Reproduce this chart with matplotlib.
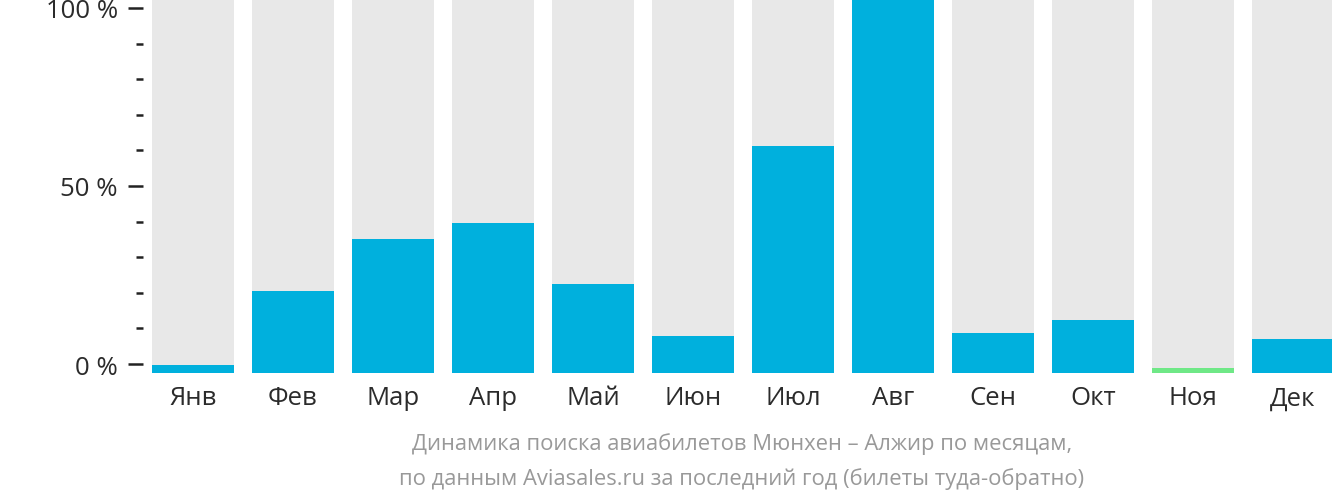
import matplotlib.pyplot as plt
from matplotlib.ticker import FixedLocator
import numpy as np

plt.rcParams['font.family'] = ['Open Sans', 'DejaVu Sans']

# Monthly search share, % of the busiest month
months = ['Янв', 'Фев', 'Мар', 'Апр', 'Май', 'Июн', 'Июл', 'Авг', 'Сен', 'Окт', 'Ноя', 'Дек']
values = [2.1, 21.9, 35.8, 40.1, 23.8, 9.9, 60.7, 100.0, 10.7, 14.2, 1.3, 9.1]
highlight = 'Ноя'
y_ticks = [0, 50, 100]
y_minor = [10, 20, 30, 40, 60, 70, 80, 90]
y_labels = ['0 %', '50 %', '100 %']
caption = ('Динамика поиска авиабилетов Мюнхен – Алжир по месяцам,\n'
           'по данным Aviasales.ru за последний год (билеты туда-обратно)')

blue = '#00b0dd'
green = '#6fe887'
grey = '#e8e8e8'
text_col = '#2b2b2b'

fig = plt.figure(figsize=(13.32, 5.02), dpi=100)
rect = [143 / 1332, 128 / 502, (1332 - 143) / 1332, 374 / 502]

# bars live on their own 0..100 axes filling the whole plot height
ax = fig.add_axes(rect)
x = np.arange(len(months))
ax.bar(x, 100, width=0.82, color=grey, zorder=1)
colors = [green if m == highlight else blue for m in months]
ax.bar(x, values, width=0.82, color=colors, zorder=2)
ax.set_xlim(-0.5, 11.39)
ax.set_ylim(0, 100)
for s in ax.spines.values():
    s.set_visible(False)
ax.set_xticks(x)
ax.set_xticklabels(months, fontsize=18.5, color=text_col)
ax.tick_params(axis='x', length=0, pad=9)
ax.set_yticks([])

# percentage scale, slightly inset from the bar area
sc = fig.add_axes(rect, facecolor='none')
sc.set_ylim(-2.5, 102.5)
sc.set_xticks([])
for s in sc.spines.values():
    s.set_visible(False)
sc.yaxis.set_major_locator(FixedLocator(y_ticks))
sc.set_yticklabels(y_labels, fontsize=18.5, color=text_col)
sc.yaxis.set_minor_locator(FixedLocator(y_minor))
sc.tick_params(axis='y', which='major', length=10.8, width=1.8, color='#222222', pad=7.2)
sc.tick_params(axis='y', which='minor', length=5, width=1.8, color='#222222')

fig.text(742 / 1332, 1 - 461.5 / 502, caption, ha='center', va='center',
         fontsize=15.8, color='#999999', linespacing=1.78)

fig.savefig('out.png', dpi=100)
